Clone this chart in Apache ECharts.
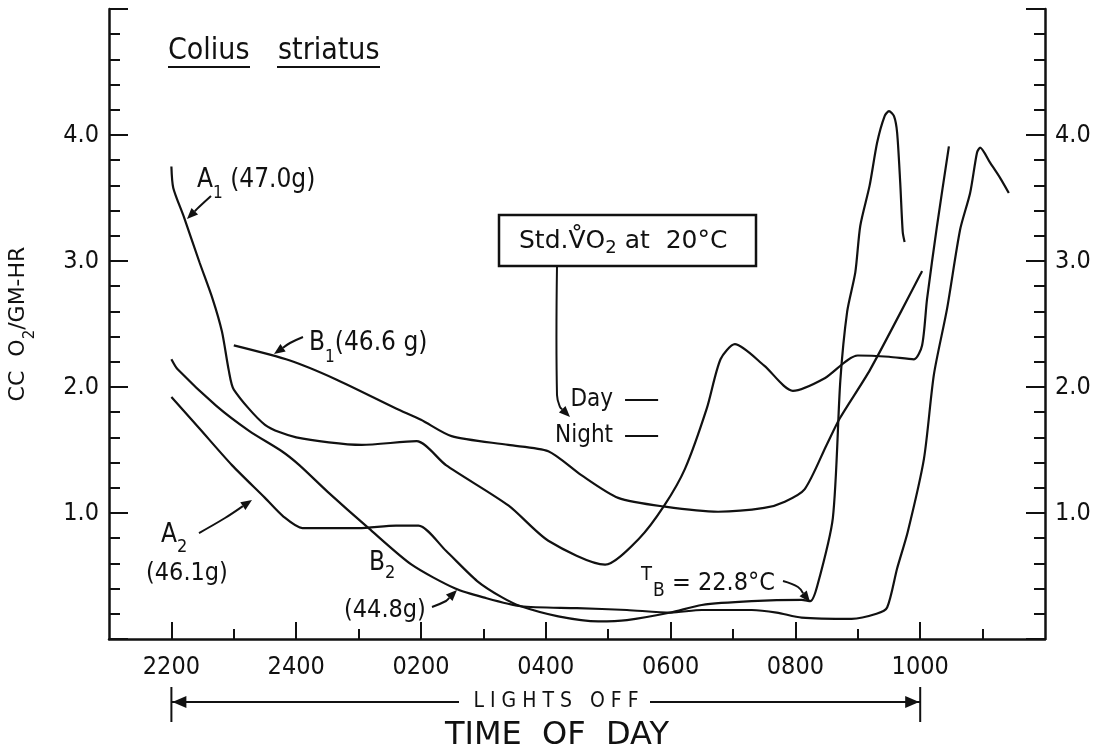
<!DOCTYPE html>
<html>
<head>
<meta charset="utf-8">
<title>Colius striatus - oxygen consumption</title>
<script src="https://cdn.jsdelivr.net/npm/echarts@6/dist/echarts.min.js"></script>
<style>
  html, body { margin: 0; padding: 0; background: #fff; }
  #chart { width: 1107px; height: 754px; }
</style>
</head>
<body>
<div id="chart"></div>
<script>
// hours run on past midnight: 22 = 2200, 24 = 2400, 26 = 0200 ... 34 = 1000
const majorHours = [22, 24, 26, 28, 30, 32, 34];
const minorHours = [23, 25, 27, 29, 31, 33, 35];
const hourLabels = ['2200', '2400', '0200', '0400', '0600', '0800', '1000'];

// [hour, cc O2 / gm-hr]
const A1 = [
  [22.0, 3.75], [22.03, 3.58], [22.2, 3.35], [22.45, 2.99], [22.66, 2.70], [22.81, 2.44],
  [22.92, 2.13], [23.0, 1.98], [23.5, 1.70], [24.0, 1.60], [25.05, 1.54], [25.93, 1.57],
  [26.4, 1.38], [27.4, 1.06], [28.04, 0.78], [28.95, 0.59], [29.5, 0.80], [29.9, 1.06],
  [30.23, 1.35], [30.58, 1.83], [30.8, 2.22], [31.03, 2.34], [31.5, 2.17], [31.96, 1.97],
  [32.47, 2.07], [33.0, 2.25], [33.5, 2.24], [33.9, 2.22], [34.03, 2.33], [34.11, 2.70],
  [34.27, 3.28], [34.46, 3.91],
];
const B1 = [
  [23.0, 2.33], [23.9, 2.21], [24.64, 2.06], [25.6, 1.83], [26.0, 1.74], [26.49, 1.61],
  [27.4, 1.54], [28.04, 1.49], [28.57, 1.30], [29.16, 1.12], [29.91, 1.05], [30.76, 1.01],
  [31.5, 1.04], [31.83, 1.09], [32.15, 1.19], [32.5, 1.54], [32.71, 1.75], [33.2, 2.14],
  [34.03, 2.92],
];
const A2 = [
  [22.0, 1.92], [22.45, 1.67], [22.97, 1.38], [23.5, 1.12], [23.8, 0.97], [24.1, 0.88],
  [25.0, 0.88], [25.6, 0.90], [25.96, 0.90], [26.4, 0.70], [26.9, 0.46], [27.3, 0.33],
  [27.6, 0.26], [28.2, 0.18], [28.84, 0.14], [29.3, 0.15], [30.0, 0.21], [30.5, 0.27],
  [31.3, 0.30], [32.1, 0.31], [32.24, 0.30], [32.35, 0.42], [32.6, 0.96], [32.72, 2.05],
  [32.83, 2.60], [32.96, 2.91], [33.04, 3.28], [33.19, 3.60], [33.31, 3.94], [33.43, 4.15],
  [33.5, 4.19], [33.58, 4.15], [33.63, 4.02], [33.68, 3.62], [33.72, 3.23], [33.75, 3.15],
];
const B2 = [
  [22.0, 2.22], [22.1, 2.14], [22.72, 1.85], [23.25, 1.65], [23.77, 1.49], [24.05, 1.38],
  [24.5, 1.17], [25.16, 0.88], [25.85, 0.59], [26.55, 0.40], [27.0, 0.33], [27.6, 0.26],
  [28.5, 0.245], [29.3, 0.23], [30.0, 0.21], [30.5, 0.23], [31.3, 0.23], [31.7, 0.21],
  [32.1, 0.17], [32.9, 0.16], [33.3, 0.20], [33.47, 0.25], [33.63, 0.56], [33.8, 0.85],
  [34.06, 1.43], [34.22, 2.10], [34.43, 2.62], [34.64, 3.25], [34.8, 3.54], [34.91, 3.86],
  [34.96, 3.90], [35.12, 3.78], [35.28, 3.66], [35.42, 3.54],
];

// standard VO2 at 20 C
const stdNames = ['Day', 'Night'];
const stdValues = [1.90, 1.61];

const FONT = "'DejaVu Sans Condensed', 'DejaVu Sans', sans-serif";
const INK = '#111';

const chart = echarts.init(document.getElementById('chart'), null, { renderer: 'canvas' });

const curve = (name, data) => ({
  name,
  type: 'line',
  data,
  smooth: 0.25,
  symbol: 'none',
  silent: true,
  lineStyle: { color: INK, width: 2.2 },
  z: 3,
});

const yAxis = (position) => ({
  type: 'value',
  position,
  min: 0,
  max: 5,
  interval: 1,
  axisLine: { show: true, onZero: false, lineStyle: { color: INK, width: 2.5 } },
  axisTick: { show: true, inside: true, length: 19, lineStyle: { color: INK, width: 2 } },
  minorTick: { show: true, splitNumber: 5, length: 11, lineStyle: { color: INK, width: 2 } },
  axisLabel: {
    margin: 10,
    color: INK,
    fontFamily: FONT,
    fontSize: 25,
    formatter: (v) => (v >= 1 && v <= 4 ? v.toFixed(1) : ''),
  },
  splitLine: { show: false },
});

const leftAxis = yAxis('left');
leftAxis.name = 'CC  O{s|2}/GM-HR';
leftAxis.nameLocation = 'middle';
leftAxis.nameRotate = 90;
leftAxis.nameGap = 71;
leftAxis.nameTextStyle = {
  color: INK,
  fontFamily: 'DejaVu Sans',
  fontSize: 22,
  lineHeight: 40,
  rich: { s: { fontFamily: 'DejaVu Sans', fontSize: 15, lineHeight: 15, verticalAlign: 'bottom', color: INK } },
};

chart.setOption({
  backgroundColor: '#fff',
  animation: false,
  grid: { left: 109, right: 62, top: 9, bottom: 115, containLabel: false, outerBoundsMode: 'none' },
  xAxis: [
    {
      type: 'value',
      min: 21,
      max: 36,
      position: 'bottom',
      axisLine: { show: true, onZero: false, lineStyle: { color: INK, width: 2.5 } },
      axisTick: { show: true, inside: true, length: 17, customValues: majorHours, lineStyle: { color: INK, width: 2 } },
      axisLabel: {
        customValues: majorHours,
        formatter: (v) => hourLabels[majorHours.indexOf(v)] || '',
        margin: 16,
        color: INK,
        fontFamily: FONT,
        fontSize: 25,
      },
      splitLine: { show: false },
    },
    {
      type: 'value',
      min: 21,
      max: 36,
      position: 'bottom',
      axisLine: { show: false, onZero: false },
      axisTick: { show: true, inside: true, length: 10, customValues: minorHours, lineStyle: { color: INK, width: 2 } },
      axisLabel: { show: false },
      splitLine: { show: false },
    },
  ],
  yAxis: [leftAxis, yAxis('right')],
  series: [
    curve('A1 (47.0g)', A1),
    curve('B1 (46.6g)', B1),
    curve('A2 (46.1g)', A2),
    curve('B2 (44.8g)', B2),
    {
      name: 'Std VO2 at 20°C',
      type: 'line',
      data: [],
      symbol: 'none',
      silent: true,
      markLine: {
        silent: true,
        symbol: ['none', 'none'],
        lineStyle: { color: INK, width: 2, type: 'solid' },
        label: {
          show: true,
          position: 'start',
          distance: 12,
          formatter: (p) => p.name,
          color: INK,
          fontFamily: FONT,
          fontSize: 24,
        },
        data: stdNames.map((n, i) => [
          { name: n, coord: [29.27, stdValues[i]] },
          { coord: [29.8, stdValues[i]] },
        ]),
      },
    },
  ],
});

// ---- annotations ----
function text(x, y, str, size, extra) {
  return {
    type: 'text',
    x,
    y,
    silent: true,
    z: 10,
    style: Object.assign(
      {
        text: str,
        fill: INK,
        fontFamily: FONT,
        fontSize: size,
        align: 'left',
        textAlign: 'left',
        verticalAlign: 'middle',
        textVerticalAlign: 'middle',
      },
      extra || {},
    ),
  };
}

// label with a dropped subscript
function subText(x, y, str, size, subSize, drop, family) {
  const fam = family || FONT;
  return text(x, y, str, size, {
    fontFamily: fam,
    lineHeight: 2 * drop + subSize,
    rich: { s: { fontFamily: fam, fontSize: subSize, lineHeight: subSize, verticalAlign: 'bottom', fill: INK, color: INK } },
  });
}

function arrow(pts, head) {
  head = head || 11;
  const n = pts.length;
  const [x1, y1] = pts[n - 2];
  const [x2, y2] = pts[n - 1];
  const a = Math.atan2(y2 - y1, x2 - x1);
  const w = head * 0.42;
  const bx = x2 - head * Math.cos(a);
  const by = y2 - head * Math.sin(a);
  return [
    {
      type: 'polyline',
      silent: true,
      z: 10,
      shape: { points: pts.slice(0, n - 1).concat([[bx, by]]), smooth: n > 2 ? 0.4 : 0 },
      style: { stroke: INK, lineWidth: 2, fill: null },
    },
    {
      type: 'polygon',
      silent: true,
      z: 10,
      shape: { points: [[x2, y2], [bx - w * Math.sin(a), by + w * Math.cos(a)], [bx + w * Math.sin(a), by - w * Math.cos(a)]] },
      style: { fill: INK },
    },
  ];
}

function line(x1, y1, x2, y2, width) {
  return { type: 'line', silent: true, z: 10, shape: { x1, y1, x2, y2 }, style: { stroke: INK, lineWidth: width || 2 } };
}

const xStart = chart.convertToPixel({ xAxisIndex: 0 }, 22);
const xEnd = chart.convertToPixel({ xAxisIndex: 0 }, 34);
const yArrow = 702;

const graphic = [
  // title
  text(168, 51, 'Colius', 30),
  line(168, 67, 250, 67, 2),
  text(278, 51, 'striatus', 30),
  line(277, 67, 380, 67, 2),

  // curve labels
  subText(197, 180, 'A{s|1} (47.0g)', 26, 17, 14),
  ...arrow([[211, 196], [199, 207], [187, 219]]),
  subText(309, 343, 'B{s|1}(46.6 g)', 26, 17, 15),
  ...arrow([[303, 337], [290, 343], [274, 354]]),
  subText(161, 535, 'A{s|2}', 26, 18, 12),
  text(146, 573, '(46.1g)', 25),
  ...arrow([[199, 533], [225, 518], [252, 500]]),
  subText(369, 563, 'B{s|2}', 26, 18, 10),
  text(344, 610, '(44.8g)', 25),
  ...arrow([[432, 607], [446, 601], [457, 590]]),
  text(641, 575, 'T', 20),
  text(653, 591, 'B', 19),
  text(672, 583, '= 22.8°C', 25),
  ...arrow([[783, 581], [798, 587], [810, 602]]),

  // standard VO2 box
  {
    type: 'rect',
    silent: true,
    z: 10,
    shape: { x: 499, y: 215, width: 257, height: 51 },
    style: { fill: '#fff', stroke: INK, lineWidth: 2.5 },
  },
  subText(519, 241, 'Std.V\u030AO{s|2} at  20°C', 25, 18, 7, 'DejaVu Sans'),
  ...arrow([[557, 266], [557, 395], [560, 407], [570, 417]]),

  // lights off bar
  line(xStart, 687, xStart, 722, 2),
  line(xEnd, 687, xEnd, 722, 2),
  line(xStart, yArrow, 459, yArrow, 2),
  line(650, yArrow, xEnd, yArrow, 2),
  ...arrow([[xStart + 30, yArrow], [xStart + 1, yArrow]], 14),
  ...arrow([[xEnd - 30, yArrow], [xEnd - 1, yArrow]], 14),
  text(556, 702, 'L I G H T S   O F F', 21, { align: 'center', textAlign: 'center' }),
  text(557, 736, 'TIME  OF  DAY', 32, { fontFamily: 'DejaVu Sans', align: 'center', textAlign: 'center' }),
];

chart.setOption({ graphic });

window.addEventListener('resize', () => chart.resize());
</script>
</body>
</html>
